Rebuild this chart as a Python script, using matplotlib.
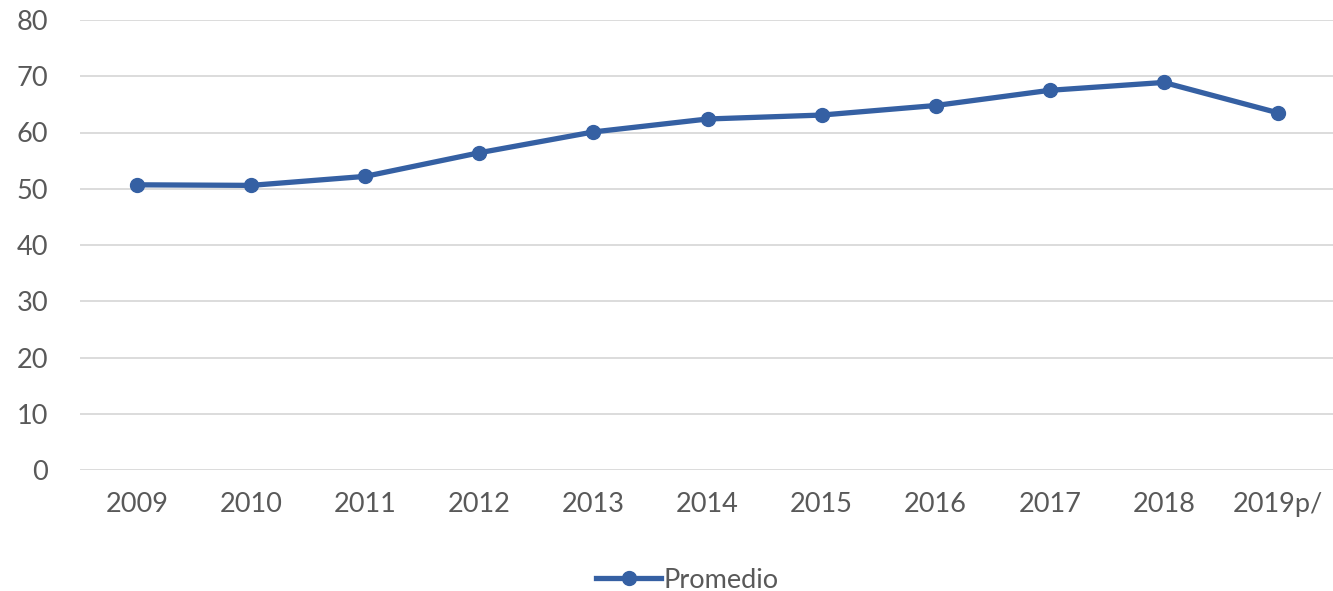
import matplotlib.pyplot as plt

years = ['2009', '2010', '2011', '2012', '2013', '2014', '2015', '2016', '2017', '2018', '2019p/']
promedio = [50.7, 50.6, 52.2, 56.4, 60.1, 62.4, 63.1, 64.8, 67.5, 68.9, 63.5]

plt.rcParams['font.family'] = ['Lato', 'DejaVu Sans']

fig = plt.figure(figsize=(13.33, 5.91), dpi=100)
ax = fig.add_axes([80 / 1333, 1 - 470 / 591, 1255 / 1333, 450 / 591])

x = range(len(years))
ax.plot(x, promedio, color='#3560a3', linewidth=3.8, marker='o', markersize=10,
        label='Promedio', zorder=3, clip_on=False)

ax.set_xlim(-0.5, len(years) - 0.5)
ax.set_ylim(0, 80)
ax.set_yticks(range(0, 81, 10))
ax.set_xticks(list(x))
ax.set_xticklabels(years)

ax.grid(axis='y', color='#d9d9d9', linewidth=1.3, zorder=0)
ax.set_axisbelow(True)
for s in ax.spines.values():
    s.set_visible(False)
ax.tick_params(axis='both', length=0, labelsize=19.5, colors='#595959')
ax.tick_params(axis='y', pad=23)
ax.tick_params(axis='x', pad=16)

leg = ax.legend(loc='center', bbox_to_anchor=(0.484, -0.245), frameon=False,
                fontsize=19.5, handlelength=2.4, handletextpad=0.1)
for t in leg.get_texts():
    t.set_color('#595959')

fig.savefig('out.png', dpi=100)
